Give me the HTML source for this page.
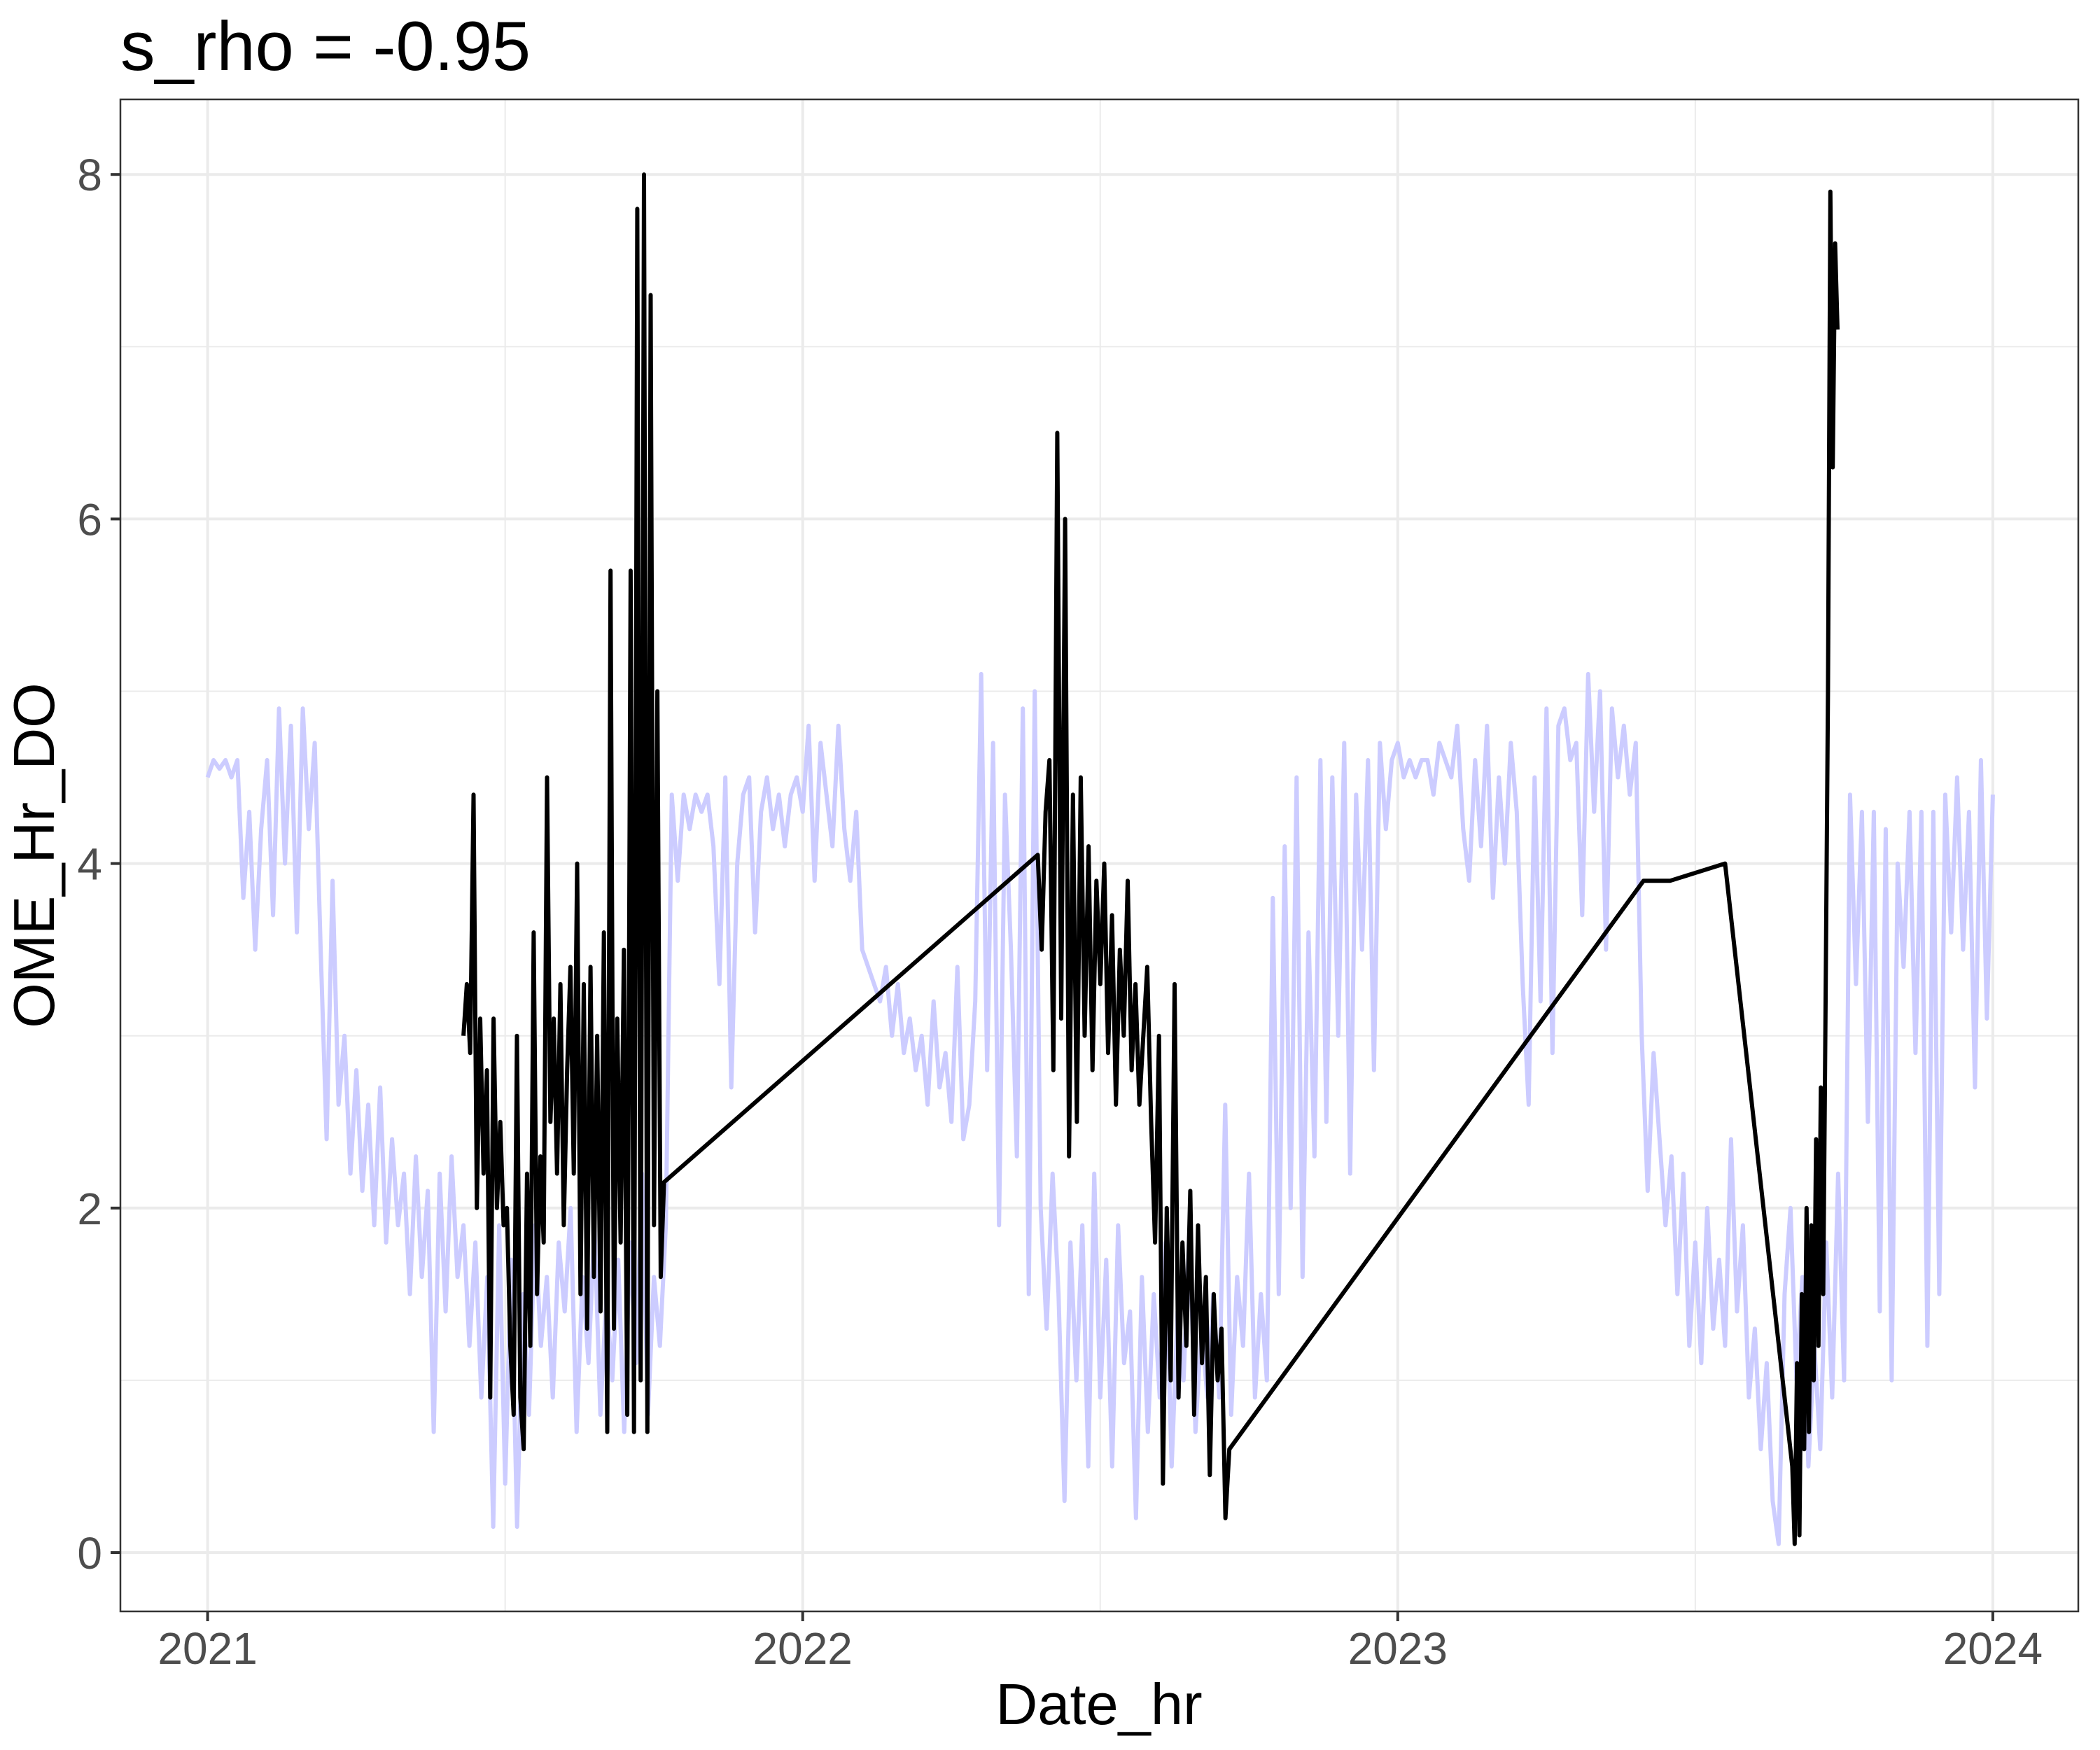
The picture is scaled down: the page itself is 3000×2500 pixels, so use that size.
<!DOCTYPE html>
<html><head><meta charset="utf-8">
<style>
html,body{margin:0;padding:0;background:#fff;}
svg{display:block;font-family:"Liberation Sans",sans-serif;}
</style></head>
<body>
<svg id="chart" width="3000" height="2500" viewBox="0 0 3000 2500" xmlns="http://www.w3.org/2000/svg">
<rect x="0" y="0" width="3000" height="2500" fill="#fff"/>
<g id="grid"></g>
<g id="series"></g>
<rect x="172" y="142" width="2797" height="2160" fill="none" stroke="#333" stroke-width="2.5"/>
<g id="axes"></g>
<text x="172" y="100" font-size="99" fill="#000">s_rho = -0.95</text>
<text x="1570" y="2463" font-size="83" fill="#000" text-anchor="middle">Date_hr</text>
<text x="0" y="0" font-size="83" fill="#000" text-anchor="middle" transform="translate(77,1222) rotate(-90)">OME_Hr_DO</text>
</svg>
<script>
const xTicks=[2021,2022,2023,2024];
const xTickLabels=["2021","2022","2023","2024"];
const yTicks=[0,2,4,6,8];
const yTickLabels=["0","2","4","6","8"];
// blue series: sampled every 0.01 year from 2021.00
const blueStart=2021.0, blueStep=0.01;
const blueValues=[
4.5,4.6,4.55,4.6,4.5,4.6,3.8,4.3,3.5,4.2,
4.6,3.7,4.9,4.0,4.8,3.6,4.9,4.2,4.7,3.5,
2.4,3.9,2.6,3.0,2.2,2.8,2.1,2.6,1.9,2.7,
1.8,2.4,1.9,2.2,1.5,2.3,1.6,2.1,0.7,2.2,
1.4,2.3,1.6,1.9,1.2,1.8,0.9,1.6,0.15,1.9,
0.4,1.7,0.15,1.5,0.8,1.9,1.2,1.6,0.9,1.8,
1.4,2.0,0.7,1.6,1.1,1.9,0.8,1.5,1.0,1.7,
0.7,1.8,1.1,2.2,0.8,1.6,1.2,1.9,4.4,3.9,
4.4,4.2,4.4,4.3,4.4,4.1,3.3,4.5,2.7,4.0,
4.4,4.5,3.6,4.3,4.5,4.2,4.4,4.1,4.4,4.5,
4.3,4.8,3.9,4.7,4.4,4.1,4.8,4.2,3.9,4.3,
3.5,3.4,3.3,3.2,3.4,3.0,3.3,2.9,3.1,2.8,
3.0,2.6,3.2,2.7,2.9,2.5,3.4,2.4,2.6,3.2,
5.1,2.8,4.7,1.9,4.4,3.5,2.3,4.9,1.5,5.0,
2.0,1.3,2.2,1.5,0.3,1.8,1.0,1.9,0.5,2.2,
0.9,1.7,0.5,1.9,1.1,1.4,0.2,1.6,0.7,1.5,
0.9,1.8,0.5,1.4,1.0,1.9,0.7,1.3,0.9,1.5,
0.9,2.6,0.8,1.6,1.2,2.2,0.9,1.5,1.0,3.8,
1.5,4.1,2.0,4.5,1.6,3.6,2.3,4.6,2.5,4.5,
3.0,4.7,2.2,4.4,3.5,4.6,2.8,4.7,4.2,4.6,
4.7,4.5,4.6,4.5,4.6,4.6,4.4,4.7,4.6,4.5,
4.8,4.2,3.9,4.6,4.1,4.8,3.8,4.5,4.0,4.7,
4.3,3.3,2.6,4.5,3.2,4.9,2.9,4.8,4.9,4.6,
4.7,3.7,5.1,4.3,5.0,3.5,4.9,4.5,4.8,4.4,
4.7,3.0,2.1,2.9,2.4,1.9,2.3,1.5,2.2,1.2,
1.8,1.1,2.0,1.3,1.7,1.2,2.4,1.4,1.9,0.9,
1.3,0.6,1.1,0.3,0.05,1.5,2.0,1.0,1.6,0.5,
1.2,0.6,1.8,0.9,2.2,1.0,4.4,3.3,4.3,2.5,
4.3,1.4,4.2,1.0,4.0,3.4,4.3,2.9,4.3,1.2,
4.3,1.5,4.4,3.6,4.5,3.5,4.3,2.7,4.6,3.1,
4.4];
// black series segments (start time, end time, values evenly spaced)
const blackSeg1Times=[2021.43,2021.767];
const blackSeg1Values=[3.0,3.3,2.9,4.4,2.0,3.1,2.2,2.8,0.9,3.1,2.0,2.5,1.9,2.0,1.2,0.8,3.0,0.9,0.6,2.2,1.2,3.6,1.5,2.3,1.8,4.5,2.5,3.1,2.2,3.3,1.9,2.8,3.4,2.2,4.0,1.5,3.3,1.3,3.4,1.6,3.0,1.4,3.6,0.7,5.7,1.3,3.1,1.8,3.5,0.8,5.7,0.7,7.8,1.0,8.0,0.7,7.3,1.9,5.0,1.6,2.15];
const blackSeg2Times=[2022.395,2022.717];
const blackSeg2Values=[4.05,3.5,4.3,4.6,2.8,6.5,3.1,6.0,2.3,4.4,2.5,4.5,3.0,4.1,2.8,3.9,3.3,4.0,2.9,3.7,2.6,3.5,3.0,3.9,2.8,3.3,2.6,3.0,3.4,2.5,1.8,3.0,0.4,2.0,1.0,3.3,0.9,1.8,1.2,2.1,0.8,1.9,1.1,1.6,0.45,1.5,1.0,1.3,0.2,0.6];
const blackGapTimes=[2023.413,2023.458,2023.55];
const blackGapValues=[3.9,3.9,4.0];
const blackSeg3Times=[2023.663,2023.739];
const blackSeg3Values=[0.5,0.05,1.1,0.1,1.5,0.6,2.0,0.7,1.9,1.0,2.4,1.2,2.7,1.5,3.2,5.0,7.9,6.3,7.6,7.1];

const NS="http://www.w3.org/2000/svg";
const X=t=>296.6+(t-2021)*850.1;
const Y=v=>2218-v*246.1;
const grid=document.getElementById('grid');
const axes=document.getElementById('axes');
const series=document.getElementById('series');
function line(par,x1,y1,x2,y2,stroke,w,name){
  const l=document.createElementNS(NS,'line');
  l.setAttribute('x1',x1);l.setAttribute('y1',y1);l.setAttribute('x2',x2);l.setAttribute('y2',y2);
  l.setAttribute('stroke',stroke);l.setAttribute('stroke-width',w);
  
  
  par.appendChild(l);
}
for(let v=1;v<=7;v+=2){line(grid,172,Y(v),2969,Y(v),'#ebebeb',2,'y-minor-gridline');}
for(let t=2021.5;t<2024;t+=1){line(grid,X(t),142,X(t),2302,'#ebebeb',2,'x-minor-gridline');}
yTicks.forEach((v,i)=>{
  line(grid,172,Y(v),2969,Y(v),'#ebebeb',4,'y-major-gridline');
  line(axes,158,Y(v),172,Y(v),'#333',4,'y-tick');
  const tx=document.createElementNS(NS,'text');
  tx.setAttribute('x',146);tx.setAttribute('y',Y(v)+23);tx.setAttribute('font-size',64);
  tx.setAttribute('fill','#4d4d4d');tx.setAttribute('text-anchor','end');
  tx.textContent=yTickLabels[i];
  
  
  axes.appendChild(tx);
});
xTicks.forEach((t,i)=>{
  line(grid,X(t),142,X(t),2302,'#ebebeb',4,'x-major-gridline');
  line(axes,X(t),2302,X(t),2316,'#333',4,'x-tick');
  const tx=document.createElementNS(NS,'text');
  tx.setAttribute('x',X(t));tx.setAttribute('y',2377);tx.setAttribute('font-size',64);
  tx.setAttribute('fill','#4d4d4d');tx.setAttribute('text-anchor','middle');
  tx.textContent=xTickLabels[i];
  
  
  axes.appendChild(tx);
});
let d='';
blueValues.forEach((v,i)=>{d+=(i?'L':'M')+X(blueStart+i*blueStep).toFixed(1)+','+Y(v).toFixed(1);});
const bp=document.createElementNS(NS,'path');
bp.setAttribute('d',d);bp.setAttribute('fill','none');bp.setAttribute('stroke','#ccccff');
bp.setAttribute('stroke-width',6);bp.setAttribute('stroke-linejoin','round');


series.appendChild(bp);
const pts=[];
function addSeg(times,vals){const n=vals.length;vals.forEach((v,i)=>pts.push([times[0]+(times[1]-times[0])*i/(n-1),v]));}
addSeg(blackSeg1Times,blackSeg1Values);
addSeg(blackSeg2Times,blackSeg2Values);
blackGapTimes.forEach((t,i)=>pts.push([t,blackGapValues[i]]));
addSeg(blackSeg3Times,blackSeg3Values);
let d2='';
pts.forEach((p,i)=>{d2+=(i?'L':'M')+X(p[0]).toFixed(1)+','+Y(p[1]).toFixed(1);});
const kp=document.createElementNS(NS,'path');
kp.setAttribute('d',d2);kp.setAttribute('fill','none');kp.setAttribute('stroke','#000');
kp.setAttribute('stroke-width',6);kp.setAttribute('stroke-linejoin','round');


series.appendChild(kp);
</script>
</body></html>
